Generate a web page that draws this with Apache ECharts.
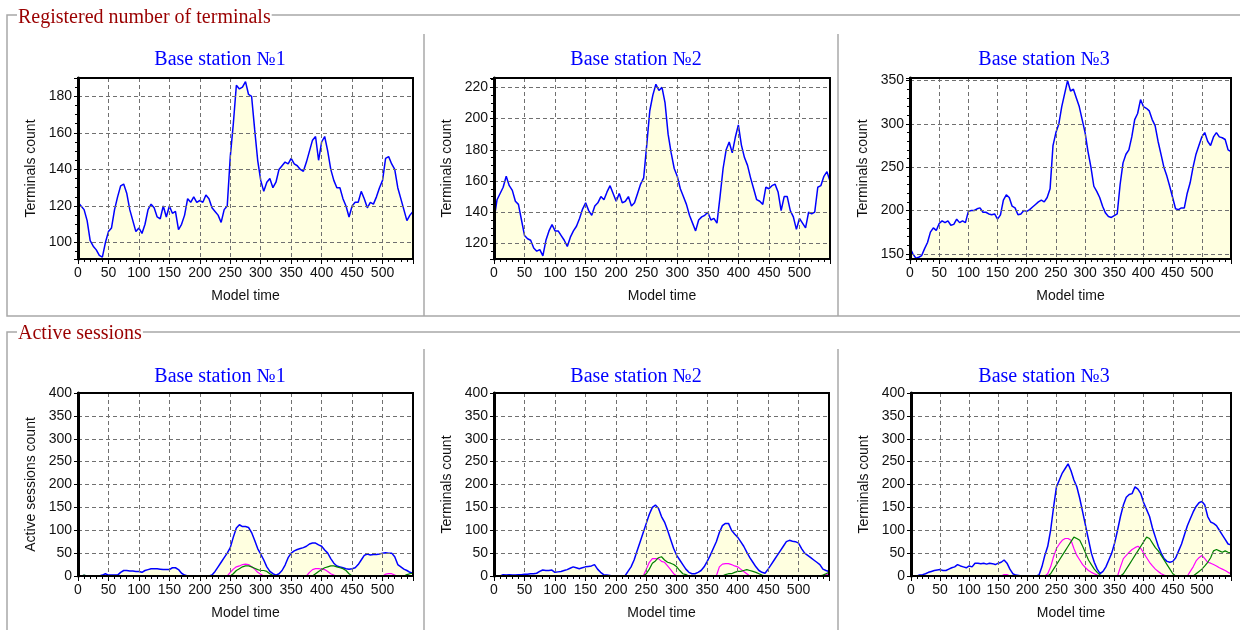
<!DOCTYPE html>
<html>
<head>
<meta charset="utf-8">
<script src="https://cdn.jsdelivr.net/npm/echarts@6/dist/echarts.min.js"></script>
<style>
  html, body { margin: 0; padding: 0; background: #fff; }
  #chart { width: 1240px; height: 630px; }
</style>
</head>
<body>
<div id="chart"></div>
<script>
// model time samples, every 5 units from 0 to 550
const times = [];
for (let t = 0; t <= 550; t += 5) times.push(t);

const stationNames = ['Base station №1', 'Base station №2', 'Base station №3'];
const groupTitles = ['Registered number of terminals', 'Active sessions'];

// Registered number of terminals (blue)
const registered1 = [
  122,120,118,112,101,98,96,93,92,100,
  106,108,118,125,131,132,127,118,112,106,
  108,105,110,118,121,119,114,113,120,114,
  120,116,117,107,110,115,124,122,125,122,
  123,122,126,124,119,117,115,111,118,120,
  147,165,186,184,185,188,181,180,162,145,
  134,128,133,135,130,133,140,142,144,143,
  146,143,142,140,139,144,150,156,158,145,
  155,158,150,140,134,130,130,124,120,114,
  120,122,122,128,124,119,122,121,125,130,
  134,146,147,143,140,130,124,118,112,115,
  117
];
const registered2 = [
  135,148,152,156,163,157,154,147,145,135,
  125,123,122,117,115,116,112,122,128,132,
  128,128,125,122,118,124,128,131,136,142,
  146,141,138,144,146,150,148,153,157,152,
  147,152,146,147,150,144,146,152,158,162,
  183,205,215,222,218,220,210,190,178,168,
  163,155,150,145,138,133,128,135,137,138,
  140,135,136,133,150,168,180,185,178,188,
  196,183,175,170,162,155,148,147,145,156,
  155,157,158,153,141,150,150,141,137,129,
  136,133,130,140,139,140,156,157,163,166,
  160
];
const registered3 = [
  157,150,145,146,148,156,163,175,180,177,
  185,188,186,188,183,184,190,186,188,186,
  199,200,200,202,203,198,198,196,195,196,
  190,195,212,218,215,205,203,195,196,200,
  199,201,204,207,210,212,210,215,225,275,
  290,300,320,335,350,338,340,330,320,305,
  290,268,250,228,222,215,205,197,193,192,
  194,196,230,255,265,270,285,305,312,328,
  320,318,315,305,298,280,265,250,240,228,
  215,202,201,203,203,220,232,250,265,275,
  285,290,280,275,285,290,285,284,282,270,
  268
];

// Active sessions: total (blue), magenta and green components
const activeTotal1 = [
  0,0,1,0,0,0,0,0,2,5,
  2,2,2,2,8,12,12,11,11,10,
  10,8,12,14,16,16,16,15,14,14,
  14,18,18,14,6,2,0,0,0,0,
  0,0,0,0,2,10,20,30,40,50,
  62,85,105,112,108,108,106,95,78,60,
  48,35,20,10,5,2,5,12,24,40,
  50,55,58,60,62,65,70,72,72,68,
  65,57,50,38,28,22,20,18,16,15,
  16,18,25,35,45,48,46,47,47,48,
  50,51,50,50,42,25,20,15,12,8,
  6
];
const activeMagenta1 = [
  0,0,0,0,0,0,0,0,0,0,
  0,0,0,0,0,0,0,0,0,0,
  0,0,0,0,0,0,0,0,0,0,
  0,0,0,0,0,0,0,0,0,0,
  0,0,0,0,0,0,0,0,0,0,
  8,15,20,22,25,26,25,20,15,8,
  4,0,0,0,0,0,0,0,0,0,
  0,0,0,0,0,0,8,14,16,16,
  15,14,10,5,2,0,0,0,0,0,
  0,0,0,0,0,0,0,0,0,0,
  0,4,5,5,2,0,0,0,0,0,
  0
];
const activeGreen1 = [
  0,0,2,0,0,0,0,0,0,0,
  0,0,0,0,0,0,0,0,0,0,
  0,0,0,0,0,0,0,0,0,0,
  0,0,0,0,0,0,0,0,0,0,
  0,0,0,0,0,0,0,0,0,0,
  0,5,12,16,20,22,22,20,17,14,
  12,12,10,5,1,0,0,0,0,0,
  0,0,0,0,0,0,0,0,5,10,
  14,18,20,22,22,20,18,16,12,5,
  0,0,0,0,0,0,0,0,0,0,
  0,0,0,0,0,0,0,0,3,5,
  6
];

const activeTotal2 = [
  0,0,0,3,2,3,2,2,3,3,
  4,4,5,5,6,10,13,12,12,13,
  8,9,10,12,14,17,20,18,16,18,
  20,21,22,25,15,8,3,2,1,0,
  0,0,0,0,10,20,35,55,75,95,
  115,135,150,155,148,130,118,100,80,60,
  45,35,25,15,8,5,5,8,12,20,
  32,45,60,75,95,110,115,115,100,92,
  85,75,65,52,40,30,20,12,8,6,
  15,25,35,45,55,65,75,78,76,75,
  72,60,50,45,40,35,30,25,15,12,
  10
];
const activeMagenta2 = [
  0,0,0,0,0,0,0,0,0,0,
  0,0,0,0,0,0,0,0,0,0,
  0,0,0,0,0,0,0,0,0,0,
  0,0,0,0,0,0,0,0,0,0,
  0,0,0,0,0,0,0,0,0,0,
  15,30,38,38,38,32,30,22,14,5,
  0,0,0,0,0,0,0,0,0,0,
  0,0,0,0,20,26,27,27,25,22,
  20,15,10,5,0,0,0,0,0,0,
  0,0,0,0,0,0,0,0,0,0,
  0,0,0,0,0,0,0,0,0,3,
  3
];
const activeGreen2 = [
  0,0,0,0,0,0,0,0,0,0,
  0,0,0,0,0,0,0,0,0,0,
  0,0,0,0,0,0,0,0,0,0,
  0,0,0,0,0,0,0,0,0,0,
  0,0,0,0,0,0,0,0,0,0,
  5,15,28,33,40,42,35,30,28,25,
  20,12,5,3,0,0,0,0,0,0,
  0,0,0,0,0,0,3,5,5,8,
  10,10,12,14,12,10,8,5,2,0,
  0,0,0,0,0,0,0,0,0,0,
  0,0,0,0,0,0,0,0,2,5,
  8
];

const activeTotal3 = [
  0,0,0,2,3,5,8,10,12,13,
  14,12,12,15,18,20,25,22,20,18,
  22,20,28,28,27,28,26,28,27,25,
  28,30,35,28,15,5,2,1,0,0,
  0,0,0,0,2,20,45,65,100,150,
  195,210,225,235,245,230,210,195,170,140,
  110,80,50,30,15,5,10,20,35,50,
  72,100,130,155,172,178,180,195,190,180,
  160,145,130,105,85,65,50,38,32,30,
  32,40,55,70,90,110,125,140,152,160,
  163,155,130,118,115,110,100,90,80,70,
  68
];
const activeMagenta3 = [
  0,0,0,0,0,0,0,0,0,0,
  0,0,0,0,0,0,0,0,0,0,
  0,0,0,0,0,0,0,0,0,0,
  0,0,3,3,0,0,0,0,0,0,
  0,0,0,0,0,0,0,5,20,42,
  60,70,78,82,82,78,60,45,35,25,
  18,12,8,5,2,0,0,0,0,0,
  0,0,20,38,45,52,58,62,65,60,
  50,40,30,22,15,10,5,2,0,0,
  0,0,0,0,0,0,10,20,33,40,
  45,38,30,28,25,22,18,15,12,8,
  5
];
const activeGreen3 = [
  0,0,0,0,0,0,0,0,0,0,
  0,0,0,0,0,0,0,0,0,0,
  0,0,0,0,0,0,0,0,0,0,
  0,0,0,0,0,0,0,0,0,0,
  0,0,0,0,0,0,0,0,5,15,
  25,35,45,55,65,75,85,82,78,65,
  50,35,25,15,8,2,0,0,0,0,
  0,0,0,5,15,25,35,45,55,65,
  75,85,82,72,62,55,45,35,25,15,
  5,0,0,0,0,0,0,0,5,10,
  15,22,30,40,55,58,55,52,55,52,
  50
];

// y axis ranges and tick steps
const yRanges = [
  [91, 190, 20], [110, 226, 20], [144, 353, 50],
  [0, 400, 50], [0, 400, 50], [0, 400, 50]
];
const yNames = ['Terminals count', 'Terminals count', 'Terminals count',
  'Active sessions count', 'Terminals count', 'Terminals count'];

const chart = echarts.init(document.getElementById('chart'));

const grids = [
  { left: 78, top: 78, width: 335, height: 181 },
  { left: 494, top: 78, width: 336, height: 181 },
  { left: 910, top: 78, width: 321, height: 181 },
  { left: 78, top: 393, width: 335, height: 183 },
  { left: 494, top: 393, width: 335, height: 183 },
  { left: 911, top: 393, width: 320, height: 183 }
].map(g => Object.assign(g, {
  show: true, z: 4, backgroundColor: 'transparent',
  borderColor: '#000', borderWidth: 2
}));

const labelFont = { color: '#111', fontFamily: 'Liberation Sans, Arial', fontSize: 14 };

const xAxes = grids.map((g, i) => ({
  type: 'value', gridIndex: i, min: 0, max: 550, interval: 50, z: 3,
  name: 'Model time', nameLocation: 'middle', nameGap: 30,
  nameTextStyle: labelFont,
  axisLine: { show: true, onZero: false, lineStyle: { color: '#000', width: 2 } },
  axisTick: { show: true, length: 5, lineStyle: { color: '#000' } },
  minorTick: { show: true, splitNumber: 5, length: 3, lineStyle: { color: '#000' } },
  axisLabel: Object.assign({ margin: 7, showMaxLabel: false }, labelFont),
  splitLine: { show: true, lineStyle: { color: '#707070', type: [4, 3], width: 1 } }
}));

const yAxes = grids.map((g, i) => {
  const r = yRanges[i];
  const top = i < 3;
  return {
    type: 'value', gridIndex: i, min: r[0], max: r[1],
    minInterval: r[2], maxInterval: r[2], splitNumber: 5, z: 3,
    name: yNames[i], nameLocation: 'middle', nameGap: 40,
    nameTextStyle: labelFont,
    axisLine: { show: true, onZero: false, lineStyle: { color: '#000', width: 3 } },
    axisTick: { show: true, length: 4, lineStyle: { color: '#000' } },
    minorTick: { show: top, splitNumber: r[2] === 20 ? 4 : 5, length: 3, lineStyle: { color: '#000' } },
    axisLabel: Object.assign({ margin: 6, showMinLabel: !top, showMaxLabel: !top }, labelFont),
    splitLine: { show: true, lineStyle: { color: '#707070', type: [4, 3], width: 1 } }
  };
});

const pairs = arr => times.map((t, i) => [t, arr[i]]);

function totalSeries(idx, arr) {
  return {
    type: 'line', xAxisIndex: idx, yAxisIndex: idx, data: pairs(arr),
    showSymbol: false, silent: true, z: 2,
    lineStyle: { color: '#0000ff', width: 1.5 },
    areaStyle: { color: '#ffffe0', opacity: 1, origin: 'start' }
  };
}
function partSeries(idx, arr, color) {
  return {
    type: 'line', xAxisIndex: idx, yAxisIndex: idx, data: pairs(arr),
    showSymbol: false, silent: true, z: 2,
    lineStyle: { color: color, width: 1.2 }
  };
}

const series = [
  totalSeries(0, registered1),
  totalSeries(1, registered2),
  totalSeries(2, registered3),
  totalSeries(3, activeTotal1),
  partSeries(3, activeMagenta1, '#ff00ff'),
  partSeries(3, activeGreen1, '#008000'),
  totalSeries(4, activeTotal2),
  partSeries(4, activeMagenta2, '#ff00ff'),
  partSeries(4, activeGreen2, '#008000'),
  totalSeries(5, activeTotal3),
  partSeries(5, activeMagenta3, '#ff00ff'),
  partSeries(5, activeGreen3, '#008000')
];

// panel centres for the station titles
const panelCentres = [215, 631, 1039];
const titles = [];
[45, 362].forEach(top => {
  stationNames.forEach((name, k) => {
    titles.push({
      text: name, left: panelCentres[k], top: top, textAlign: 'center',
      textStyle: { color: '#0000ff', fontFamily: 'Liberation Serif, Times New Roman', fontSize: 20, fontWeight: 'normal' }
    });
  });
});

// group boxes and panel separators
const boxStroke = { stroke: '#a8a8a8', lineWidth: 1.5, fill: null };
const graphic = [
  { type: 'polyline', silent: true, shape: { points: [[1242, 15], [7, 15], [7, 316], [1242, 316]] }, style: boxStroke },
  { type: 'line', silent: true, shape: { x1: 424, y1: 34, x2: 424, y2: 316 }, style: boxStroke },
  { type: 'line', silent: true, shape: { x1: 838, y1: 34, x2: 838, y2: 316 }, style: boxStroke },
  { type: 'polyline', silent: true, shape: { points: [[1242, 332], [7, 332], [7, 632]] }, style: boxStroke },
  { type: 'line', silent: true, shape: { x1: 424, y1: 349, x2: 424, y2: 632 }, style: boxStroke },
  { type: 'line', silent: true, shape: { x1: 838, y1: 349, x2: 838, y2: 632 }, style: boxStroke },
  { type: 'text', silent: true, left: 17, top: 8, z: 10,
    style: { text: groupTitles[0], fill: '#9a0000', backgroundColor: '#fff', padding: [0, 1],
      font: '20px "Liberation Serif", "Times New Roman", serif' } },
  { type: 'text', silent: true, left: 17, top: 324, z: 10,
    style: { text: groupTitles[1], fill: '#9a0000', backgroundColor: '#fff', padding: [0, 1],
      font: '20px "Liberation Serif", "Times New Roman", serif' } }
];

chart.setOption({
  animation: false,
  backgroundColor: '#fff',
  title: titles,
  grid: grids,
  xAxis: xAxes,
  yAxis: yAxes,
  series: series,
  graphic: graphic
});

window.addEventListener('resize', () => chart.resize());
</script>
</body>
</html>
